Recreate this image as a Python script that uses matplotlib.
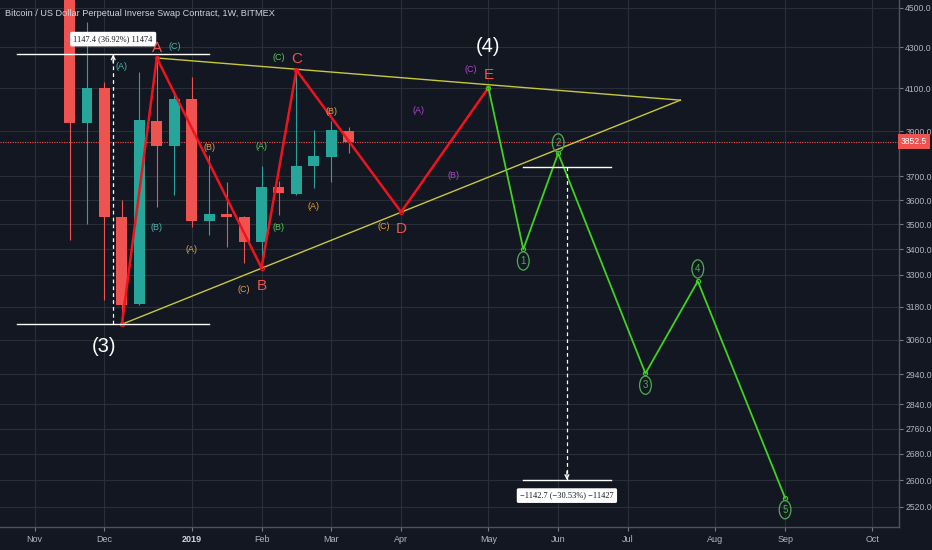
import matplotlib
matplotlib.use("Agg")
import matplotlib.pyplot as plt
import matplotlib.dates as mdates
from matplotlib.ticker import NullLocator
import numpy as np
import pandas as pd

# weekly candles (BitMEX XBTUSD, 1W)
weeks = ["2018-11-19", "2018-11-26", "2018-12-03", "2018-12-10", "2018-12-17",
         "2018-12-24", "2018-12-31", "2019-01-07", "2019-01-14", "2019-01-21",
         "2019-01-28", "2019-02-04", "2019-02-11", "2019-02-18", "2019-02-25",
         "2019-03-04", "2019-03-11"]
opens = [5560, 3937, 4100, 3529, 3190, 3947, 3834, 4048, 3514, 3542,
         3528, 3427, 3654, 3624, 3745, 3785, 3900]
highs = [5620, 4428, 4130, 3600, 4176, 4246, 4075, 4155, 3794, 3676,
         3535, 3745, 3679, 4192, 3904, 3946, 3918]
lows = [3437, 3501, 3205, 3116, 3185, 3571, 3621, 3490, 3456, 3409,
        3347, 3327, 3538, 3620, 3651, 3676, 3800]
closes = [3937, 4100, 3529, 3187, 3951, 3834, 4048, 3514, 3542, 3528,
          3427, 3654, 3628, 3745, 3789, 3904, 3852.5]
last_price = 3852.5

# elliott wave counts
red_dates = ["2018-12-10", "2018-12-24", "2019-02-04", "2019-02-18", "2019-04-01", "2019-05-06"]
red_prices = [3116, 4246, 3327, 4187, 3550, 4102]
green_dates = ["2019-05-06", "2019-05-20", "2019-06-03", "2019-07-08", "2019-07-29", "2019-09-02"]
green_prices = [4102, 3400, 3801, 2943, 3276, 2547]

# triangle trend lines
upper_dates = ["2018-12-24", "2019-07-22"]
upper_prices = [4246, 4043]
lower_dates = ["2018-12-10", "2019-07-22"]
lower_prices = [3116, 4043]

# price range measurements
meas1_dates = ["2018-10-29", "2019-01-14"]
meas1_low, meas1_high = 3116.0, 4263.4
meas1_text = "1147.4 (36.92%) 11474"
meas2_dates = ["2019-05-20", "2019-06-24"]
meas2_high, meas2_low = 3743.0, 2600.3
meas2_text = "\u22121142.7 (\u221230.53%) \u221211427"

# wave labels: text, date, price, colour key
labels = [
    ("(A)", "2018-12-10", 4202, "teal"), ("(B)", "2018-12-24", 3485, "teal"),
    ("(C)", "2018-12-31", 4303, "teal"),
    ("(A)", "2019-01-07", 3397, "orange"), ("(B)", "2019-01-14", 3825, "orange"),
    ("(C)", "2019-01-28", 3246, "orange"),
    ("(A)", "2019-02-04", 3829, "green"), ("(B)", "2019-02-11", 3485, "green"),
    ("(C)", "2019-02-11", 4246, "green"),
    ("(A)", "2019-02-25", 3571, "orange"), ("(B)", "2019-03-04", 3992, "orange"),
    ("(C)", "2019-03-25", 3489, "orange"),
    ("(A)", "2019-04-08", 3996, "purple"), ("(B)", "2019-04-22", 3706, "purple"),
    ("(C)", "2019-04-29", 4192, "purple"),
]
big_labels = [("A", "2018-12-24", 4298), ("B", "2019-02-04", 3256),
              ("C", "2019-02-18", 4241), ("D", "2019-04-01", 3481),
              ("E", "2019-05-06", 4165)]
degree_labels = [("(3)", "2018-12-03", 3038), ("(4)", "2019-05-06", 4303)]
circle_labels = [("1", "2019-05-20", 3354), ("2", "2019-06-03", 3847),
                 ("3", "2019-07-08", 2903), ("4", "2019-07-29", 3323),
                 ("5", "2019-09-02", 2512)]

month_ticks = ["2018-11-05", "2018-12-03", "2019-01-07", "2019-02-04", "2019-03-04",
               "2019-04-01", "2019-05-06", "2019-06-03", "2019-07-01", "2019-08-05",
               "2019-09-02", "2019-10-07"]
month_names = ["Nov", "Dec", "2019", "Feb", "Mar", "Apr", "May", "Jun", "Jul", "Aug", "Sep", "Oct"]
price_ticks = [2520, 2600, 2680, 2760, 2840, 2940, 3060, 3180, 3300, 3400, 3500,
               3600, 3700, 3900, 4100, 4300, 4500]

BG = "#131722"
GRID = "#2a2e39"
TXT = "#b2b5be"
UP = "#26a69a"
DOWN = "#ef5350"
colours = {"teal": "#4db6ac", "orange": "#e6a040", "green": "#5cc65f", "purple": "#b245cc"}


def dn(d):
    return mdates.date2num(pd.to_datetime(d))


plt.rcParams["font.family"] = ["Liberation Sans", "DejaVu Sans"]

fig = plt.figure(figsize=(9.32, 5.5), dpi=100, facecolor=BG)
ax = fig.add_axes([0, 23 / 550, 899 / 932, 527 / 550], facecolor=BG)
ax.set_yscale("log")

# candles
x = np.array([dn(w) for w in weeks])
o = np.array(opens, float)
c = np.array(closes, float)
cols = [UP if cc >= oo else DOWN for oo, cc in zip(o, c)]
ax.vlines(x, lows, highs, colors=cols, lw=0.8, zorder=2)
ax.bar(x, np.maximum(np.abs(c - o), 1), bottom=np.minimum(o, c), width=4.4,
       color=cols, linewidth=0, zorder=3)

ax.axhline(last_price, color=DOWN, lw=0.8, ls=(0, (1, 1.2)), zorder=1.5)

# triangle
ax.plot([dn(d) for d in upper_dates], upper_prices, color="#c8c83c", lw=1.0, zorder=4)
ax.plot([dn(d) for d in lower_dates], lower_prices, color="#c8c83c", lw=1.0, zorder=4)

# waves
ax.plot([dn(d) for d in red_dates], red_prices, color="#f0131e", lw=1.8, zorder=5,
        marker="o", ms=3, mfc="none", mec="#f0131e", mew=0.8)
ax.plot([dn(d) for d in green_dates], green_prices, color="#3fd21e", lw=1.3, zorder=5,
        marker="o", ms=3, mfc="none", mec="#3fd21e", mew=0.8)

# measurements
for ds, lo, hi, txt, up in [(meas1_dates, meas1_low, meas1_high, meas1_text, True),
                            (meas2_dates, meas2_low, meas2_high, meas2_text, False)]:
    x0, x1 = dn(ds[0]), dn(ds[1])
    xm = (x0 + x1) / 2
    ax.plot([x0, x1], [lo, lo], color="white", lw=1.0, zorder=6)
    ax.plot([x0, x1], [hi, hi], color="white", lw=1.0, zorder=6)
    ax.plot([xm, xm], [lo, hi], color="white", lw=0.9, ls=(0, (3, 2.5)), zorder=6)
    tip, tail = (hi, hi * 0.99) if up else (lo, lo * 1.01)
    ax.annotate("", xy=(xm, tip), xytext=(xm, tail),
                arrowprops=dict(arrowstyle="->", color="white", lw=0.9,
                                mutation_scale=7, shrinkA=0, shrinkB=0), zorder=6)
    ty = hi * 1.018 if up else lo * 0.982
    ax.text(xm, ty, txt, ha="center", va="center", fontsize=6.0, color="#131722",
            family=["Liberation Serif", "DejaVu Serif"], zorder=7,
            bbox=dict(boxstyle="round,pad=0.4,rounding_size=0.2", fc="white", ec="none"))

for t, d, p, k in labels:
    ax.text(dn(d), p, t, color=colours[k], fontsize=6.5, ha="center", va="center", zorder=7)
for t, d, p in big_labels:
    ax.text(dn(d), p, t, color=DOWN, fontsize=11, ha="center", va="center", zorder=7)
for t, d, p in degree_labels:
    ax.text(dn(d), p, t, color="white", fontsize=14.5, ha="center", va="center", zorder=7)
for t, d, p in circle_labels:
    ax.text(dn(d), p, t, color="#4caf50", fontsize=7, ha="center", va="center", zorder=7,
            bbox=dict(boxstyle="ellipse,pad=0.15", fc="none", ec="#4caf50", lw=0.9))

# axes
ax.set_xlim(dn("2018-11-05") - 13.9, dn("2018-11-05") + 346.7)
ax.set_ylim(2462, 4542)
ax.set_xticks([dn(d) for d in month_ticks])
ax.set_xticklabels(month_names)
ax.set_yticks(price_ticks)
ax.set_yticklabels([f"{v:.1f}" for v in price_ticks])
ax.yaxis.set_minor_locator(NullLocator())
ax.xaxis.set_minor_locator(NullLocator())
ax.yaxis.tick_right()
ax.tick_params(axis="y", colors="#787b86", labelcolor=TXT, labelsize=6.2, length=3, pad=1.5)
ax.tick_params(axis="x", colors="#787b86", labelcolor=TXT, labelsize=6.5, length=3, pad=3)
for lab in ax.get_xticklabels():
    if lab.get_text() == "2019":
        lab.set_fontweight("bold")
        lab.set_color("#d1d4dc")
ax.grid(True, color=GRID, lw=0.8)
ax.set_axisbelow(True)
for s in ["top", "left"]:
    ax.spines[s].set_visible(False)
for s in ["right", "bottom"]:
    ax.spines[s].set_color("#50535e")
    ax.spines[s].set_linewidth(1.0)

ax.text(1.002, last_price, f"{last_price:.1f}", transform=ax.get_yaxis_transform(),
        ha="left", va="center", fontsize=6.2, color="white", zorder=10, clip_on=False,
        bbox=dict(boxstyle="square,pad=0.35", fc=DOWN, ec="none"))

fig.text(5 / 932, 1 - 14 / 550, "Bitcoin / US Dollar Perpetual Inverse Swap Contract, 1W, BITMEX",
         color="#d1d4dc", fontsize=6.6, ha="left", va="center")

fig.savefig("out.png", dpi=100, facecolor=BG)
